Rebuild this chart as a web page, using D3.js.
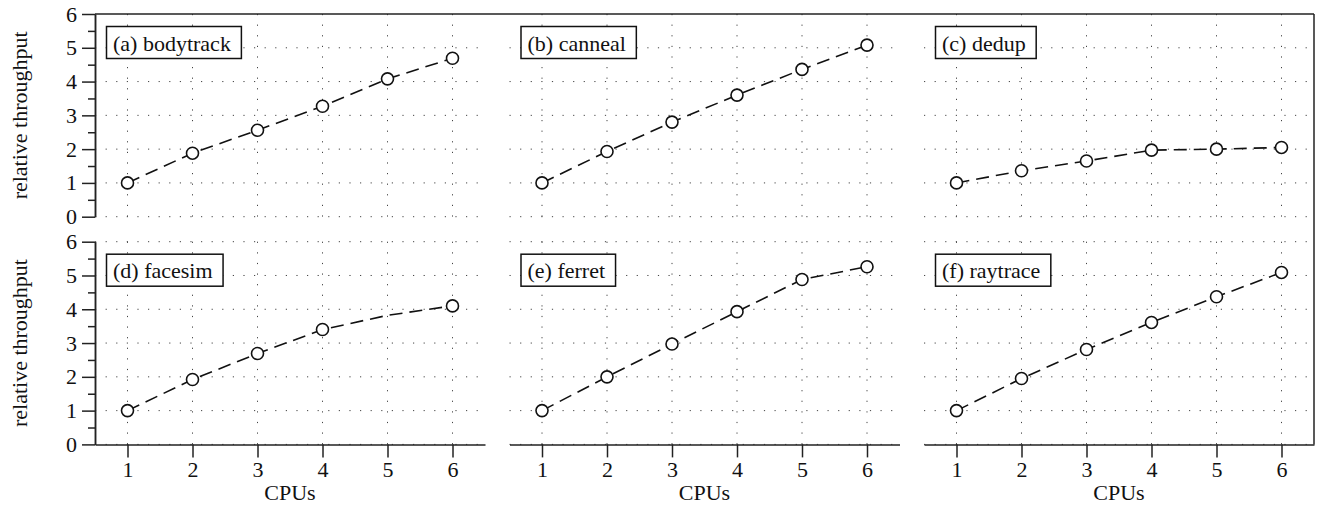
<!DOCTYPE html>
<html lang="en">
<head>
  <meta charset="UTF-8">
  <title>Relative throughput vs CPUs</title>
  <script src="https://d3js.org/d3.v7.min.js"></script>
  <style>
    body {
      margin: 0;
      background: #fff;
    }
    svg text {
      font-family: 'Liberation Serif', 'Times New Roman', Times, 'DejaVu Serif', serif;
      fill: #111;
    }
    .grid line {
      stroke: #444;
      stroke-width: 1;
      stroke-dasharray: 1.2, 9.4;
    }
    .axis path, .axis line {
      stroke: #222;
      stroke-width: 1.5;
    }
    .axis text {
      font-size: 22px;
    }
    .series {
      fill: none;
      stroke: #111;
      stroke-width: 1.6;
      stroke-dasharray: 13, 7;
    }
    .marker {
      fill: #fff;
      stroke: #111;
      stroke-width: 1.6;
    }
  </style>
</head>
<body>
  <svg width="1327" height="506"></svg>

  <script>
    // data
    const cpus = [1, 2, 3, 4, 5, 6];
    const panelNames = ['(a) bodytrack', '(b) canneal', '(c) dedup',
                        '(d) facesim', '(e) ferret', '(f) raytrace'];
    const bodytrack = [1.00, 1.88, 2.56, 3.27, 4.08, 4.69];
    const canneal   = [1.00, 1.93, 2.80, 3.60, 4.36, 5.08];
    const dedup     = [1.00, 1.36, 1.65, 1.97, 2.00, 2.05];
    const facesim   = [1.00, 1.92, 2.69, 3.40, 3.82, 4.10];
    const ferret    = [1.00, 2.00, 2.97, 3.93, 4.88, 5.26];
    const raytrace  = [1.00, 1.95, 2.81, 3.61, 4.37, 5.09];
    // points drawn without a circle marker (facesim at 5 CPUs)
    const unmarked  = [[], [], [], [5], [], []];
    const yTicks = [0, 1, 2, 3, 4, 5, 6];
    const yMinorTicks = [0.5, 1.5, 2.5, 3.5, 4.5, 5.5];

    const allSeries = [bodytrack, canneal, dedup, facesim, ferret, raytrace];
    const serif = "'Liberation Serif', 'Times New Roman', Times, serif";

    let svg = d3.select('svg');

    let left0 = 95, top0 = 14;
    let panelW = 390, panelH = 202.7;
    let gapX = 24.5, gapY = 25;

    let x = d3.scaleLinear().domain([0.5, 6.5]).range([0, panelW]);
    let y = d3.scaleLinear().domain([0, 6]).range([panelH, 0]);

    let line = d3.line()
      .x(d => x(d.cpu))
      .y(d => y(d.value));

    allSeries.forEach((values, i) => {
      let col = i % 3, row = Math.floor(i / 3);
      let px = left0 + col * (panelW + gapX);
      let py = top0 + row * (panelH + gapY);
      let g = svg.append('g').attr('transform', `translate(${px},${py})`);

      // dotted grid
      let grid = g.append('g').attr('class', 'grid');
      grid.selectAll('.hg')
        .data(yTicks.filter(t => !(row === 0 && t === 6)))
        .enter().append('line')
        .attr('x1', x(0.5)).attr('x2', x(6.5))
        .attr('y1', d => y(d)).attr('y2', d => y(d));
      grid.selectAll('.vg')
        .data(cpus)
        .enter().append('line')
        .attr('x1', d => x(d)).attr('x2', d => x(d))
        .attr('y1', y(6)).attr('y2', y(0));

      // left axis only in first column
      if (col === 0) {
        g.append('g')
          .attr('class', 'axis')
          .call(d3.axisLeft(y).tickValues(yMinorTicks).tickSize(7).tickSizeOuter(0).tickFormat(''));
        g.append('g')
          .attr('class', 'axis')
          .attr('font-family', serif)
          .call(d3.axisLeft(y).tickValues(yTicks).tickSize(13).tickSizeOuter(0)
            .tickPadding(5).tickFormat(d3.format('d')));
      }

      // bottom axis only in bottom row
      if (row === 1) {
        g.append('g')
          .attr('class', 'axis')
          .attr('font-family', serif)
          .attr('transform', `translate(0,${panelH})`)
          .call(d3.axisBottom(x).tickValues(cpus).tickSize(13).tickSizeOuter(0)
            .tickPadding(4).tickFormat(d3.format('d')));
        g.append('text')
          .attr('x', panelW / 2)
          .attr('y', panelH + 55.5)
          .attr('text-anchor', 'middle')
          .style('font-size', '22px')
          .text('CPUs');
      }

      // series
      let pts = cpus.map((c, j) => ({ cpu: c, value: values[j] }));
      g.append('path')
        .datum(pts)
        .attr('class', 'series')
        .attr('d', line);
      g.selectAll('.marker')
        .data(pts.filter(d => !unmarked[i].includes(d.cpu)))
        .enter().append('circle')
        .attr('class', 'marker')
        .attr('cx', d => x(d.cpu))
        .attr('cy', d => y(d.value))
        .attr('r', 6);

      // panel label box
      let lab = g.append('g').attr('transform', 'translate(11.5,12.5)');
      let box = lab.append('rect')
        .attr('fill', '#fff')
        .attr('stroke', '#111')
        .attr('stroke-width', 1.5)
        .attr('height', 32);
      let txt = lab.append('text')
        .attr('x', 6.5)
        .attr('y', 24)
        .style('font-size', '22px')
        .text(panelNames[i]);
      box.attr('width', txt.node().getComputedTextLength() + 17);
    });

    // outer frame: top line and right line
    let right = left0 + 3 * panelW + 2 * gapX;
    let bottom = top0 + 2 * panelH + gapY;
    svg.append('line')
      .attr('x1', left0).attr('x2', right)
      .attr('y1', top0).attr('y2', top0)
      .attr('stroke', '#222').attr('stroke-width', 1.5);
    svg.append('line')
      .attr('x1', right).attr('x2', right)
      .attr('y1', top0).attr('y2', bottom)
      .attr('stroke', '#222').attr('stroke-width', 1.5);

    // y axis titles
    [0, 1].forEach(row => {
      let cy = top0 + row * (panelH + gapY) + panelH / 2;
      svg.append('text')
        .attr('transform', `translate(27,${cy}) rotate(-90)`)
        .attr('text-anchor', 'middle')
        .style('font-size', '22px')
        .text('relative throughput');
    });
  </script>
</body>
</html>
